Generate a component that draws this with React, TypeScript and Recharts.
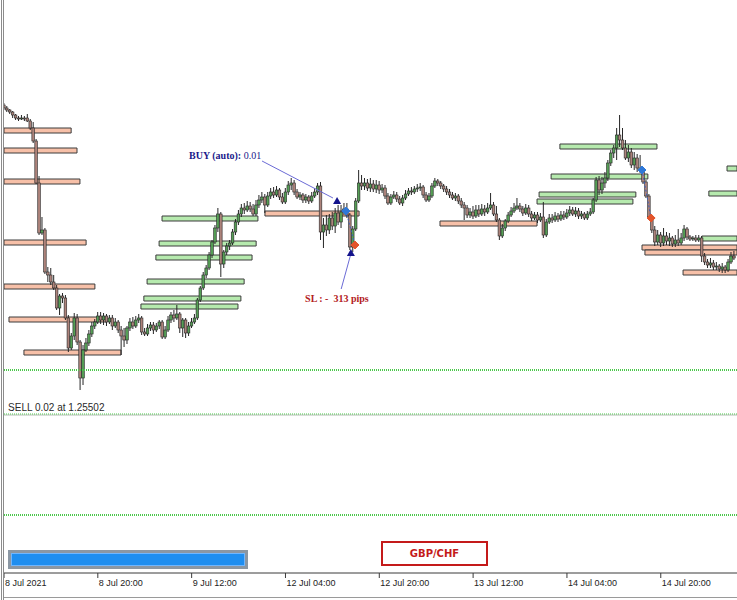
import {
  Bar,
  ComposedChart,
  ReferenceArea,
  ReferenceDot,
  ReferenceLine,
  XAxis,
  YAxis,
} from 'recharts';

type Ohlc = [number, number, number, number]; // open, high, low, close

// GBP/CHF M30 candles, one array per trading day
const jul8: Ohlc[] = [
  [1.2859, 1.2861, 1.2854, 1.2856], [1.2856, 1.2858, 1.2852, 1.2854],
  [1.2854, 1.2855, 1.285, 1.2852], [1.2852, 1.2853, 1.2846, 1.2849],
  [1.2849, 1.285, 1.2844, 1.2846], [1.2846, 1.2848, 1.2843, 1.2845],
  [1.2845, 1.2849, 1.2844, 1.2846], [1.2846, 1.2848, 1.2843, 1.2845],
  [1.2846, 1.285, 1.2842, 1.2843], [1.2843, 1.2845, 1.2834, 1.2836],
  [1.2836, 1.2842, 1.2821, 1.2823], [1.2823, 1.2825, 1.278, 1.2781],
  [1.2781, 1.2788, 1.2729, 1.2731], [1.2731, 1.2747, 1.2729, 1.2734],
  [1.2734, 1.2736, 1.269, 1.2692], [1.2692, 1.2697, 1.2682, 1.2689],
  [1.2689, 1.2696, 1.2679, 1.2682], [1.2682, 1.2689, 1.2674, 1.2676],
  [1.2676, 1.2679, 1.2654, 1.2656], [1.2656, 1.267, 1.2649, 1.2668],
  [1.2668, 1.2671, 1.2661, 1.2666], [1.2666, 1.2669, 1.2644, 1.2646],
  [1.2646, 1.2649, 1.2612, 1.2616], [1.2616, 1.2631, 1.2614, 1.2628],
  [1.2628, 1.2651, 1.2624, 1.2646], [1.2646, 1.265, 1.2619, 1.2622],
  [1.2622, 1.2624, 1.2574, 1.2586], [1.2586, 1.2619, 1.2579, 1.2614],
  [1.2614, 1.2626, 1.2612, 1.2621], [1.2621, 1.2634, 1.2618, 1.263],
  [1.263, 1.2642, 1.2627, 1.2638], [1.2638, 1.2645, 1.2635, 1.2642],
  [1.2642, 1.2652, 1.264, 1.2648], [1.2648, 1.2652, 1.264, 1.2644],
  [1.2644, 1.2651, 1.2639, 1.2648], [1.2648, 1.265, 1.2638, 1.2642],
  [1.2642, 1.2649, 1.264, 1.2646], [1.2646, 1.2649, 1.2634, 1.2638],
  [1.2638, 1.2646, 1.2636, 1.2642], [1.2642, 1.2644, 1.2631, 1.2634],
];

const jul9: Ohlc[] = [
  [1.2634, 1.2638, 1.2609, 1.2628], [1.2628, 1.2636, 1.2617, 1.2624],
  [1.2624, 1.2638, 1.262, 1.2636], [1.2636, 1.2646, 1.2633, 1.2642],
  [1.2642, 1.2647, 1.2635, 1.2638], [1.2638, 1.2648, 1.2636, 1.2644],
  [1.2644, 1.265, 1.2641, 1.2646], [1.2646, 1.2648, 1.2629, 1.2632],
  [1.2632, 1.2636, 1.2628, 1.263], [1.263, 1.264, 1.2628, 1.2636],
  [1.2636, 1.2642, 1.2633, 1.2639], [1.2639, 1.2642, 1.263, 1.2634],
  [1.2634, 1.2641, 1.2632, 1.2638], [1.2638, 1.2644, 1.2635, 1.2642],
  [1.2642, 1.2644, 1.2625, 1.2627], [1.2627, 1.2638, 1.2625, 1.2634],
  [1.2634, 1.2648, 1.2632, 1.2644], [1.2644, 1.2652, 1.2641, 1.2649],
  [1.2649, 1.2654, 1.2642, 1.2646], [1.2646, 1.2659, 1.2644, 1.265],
  [1.265, 1.2652, 1.2631, 1.2636], [1.2636, 1.2646, 1.2627, 1.2644],
  [1.2644, 1.2646, 1.2626, 1.2631], [1.2631, 1.2642, 1.2628, 1.2638],
  [1.2638, 1.2646, 1.2636, 1.2642], [1.2642, 1.265, 1.264, 1.2646],
  [1.2646, 1.2666, 1.2644, 1.2664], [1.2664, 1.2678, 1.2662, 1.2676],
  [1.2676, 1.2692, 1.2674, 1.2689], [1.2689, 1.2699, 1.2686, 1.2696],
  [1.2696, 1.2712, 1.2694, 1.2709], [1.2709, 1.2724, 1.2706, 1.2722],
  [1.2722, 1.2739, 1.272, 1.2736], [1.2736, 1.2756, 1.2732, 1.275],
  [1.275, 1.2752, 1.2687, 1.27], [1.27, 1.2714, 1.2696, 1.2712],
  [1.2712, 1.2721, 1.2709, 1.2718], [1.2718, 1.2724, 1.2714, 1.2721],
  [1.2721, 1.2735, 1.2719, 1.2732], [1.2732, 1.2745, 1.2729, 1.2742],
  [1.2742, 1.2754, 1.2739, 1.275], [1.275, 1.276, 1.2747, 1.2756],
  [1.2756, 1.2761, 1.275, 1.2754], [1.2754, 1.2763, 1.2752, 1.2758],
  [1.2758, 1.2762, 1.2752, 1.2755], [1.2755, 1.276, 1.2748, 1.275],
  [1.275, 1.2764, 1.2748, 1.2759], [1.2759, 1.2769, 1.2756, 1.2764],
];

const jul12: Ohlc[] = [
  [1.2764, 1.2772, 1.2761, 1.2767], [1.2767, 1.277, 1.2751, 1.2759],
  [1.2759, 1.2772, 1.2757, 1.2768], [1.2768, 1.2776, 1.2765, 1.2772],
  [1.2772, 1.2777, 1.2766, 1.2769], [1.2769, 1.2778, 1.2767, 1.2774],
  [1.2774, 1.2776, 1.2764, 1.2767], [1.2767, 1.2771, 1.276, 1.2762],
  [1.2762, 1.2776, 1.276, 1.2772], [1.2772, 1.2783, 1.2769, 1.2779],
  [1.2779, 1.2786, 1.2774, 1.2781], [1.2781, 1.2784, 1.2769, 1.2772],
  [1.2772, 1.2775, 1.2765, 1.2767], [1.2767, 1.2772, 1.2764, 1.2769],
  [1.2769, 1.2771, 1.2761, 1.2764], [1.2764, 1.277, 1.2761, 1.2767],
  [1.2767, 1.2769, 1.276, 1.2763], [1.2763, 1.2772, 1.2761, 1.2768],
  [1.2768, 1.2776, 1.2766, 1.2772], [1.2772, 1.2781, 1.2769, 1.2778],
  [1.2778, 1.2782, 1.2724, 1.2732], [1.2732, 1.2746, 1.2716, 1.2739],
  [1.2739, 1.2749, 1.2728, 1.2734], [1.2734, 1.275, 1.273, 1.2746],
  [1.2746, 1.2752, 1.2734, 1.2738], [1.2738, 1.2756, 1.2731, 1.2751],
  [1.2751, 1.2759, 1.2739, 1.2742], [1.2742, 1.2759, 1.2736, 1.2752],
  [1.2752, 1.2761, 1.2749, 1.2755], [1.2755, 1.2761, 1.2746, 1.2749],
  [1.2749, 1.2751, 1.2714, 1.2717], [1.2717, 1.2738, 1.2712, 1.2735],
  [1.2735, 1.2766, 1.2733, 1.2763], [1.2763, 1.2794, 1.2761, 1.2781],
  [1.2781, 1.2789, 1.2774, 1.2778], [1.2778, 1.2786, 1.2774, 1.2781],
  [1.2781, 1.2785, 1.2773, 1.2776], [1.2776, 1.2786, 1.2772, 1.278],
  [1.278, 1.2784, 1.2772, 1.2775], [1.2775, 1.2784, 1.2771, 1.2779],
  [1.2779, 1.2783, 1.277, 1.2774], [1.2774, 1.278, 1.2771, 1.2776],
  [1.2776, 1.2779, 1.2765, 1.2768], [1.2768, 1.2771, 1.2759, 1.2761],
  [1.2761, 1.277, 1.2759, 1.2767], [1.2767, 1.2773, 1.2765, 1.2769],
  [1.2769, 1.2772, 1.2762, 1.2765], [1.2765, 1.2768, 1.2759, 1.2761],
];

const jul13: Ohlc[] = [
  [1.2761, 1.2769, 1.2758, 1.2766], [1.2766, 1.2774, 1.2764, 1.277],
  [1.277, 1.2776, 1.2768, 1.2773], [1.2773, 1.2777, 1.2769, 1.2772],
  [1.2772, 1.2778, 1.277, 1.2775], [1.2775, 1.278, 1.2772, 1.2776],
  [1.2776, 1.2781, 1.2773, 1.2777], [1.2777, 1.2779, 1.2766, 1.2769],
  [1.2769, 1.2772, 1.2762, 1.2764], [1.2764, 1.2771, 1.2762, 1.2768],
  [1.2768, 1.2781, 1.2766, 1.2778], [1.2778, 1.2786, 1.2776, 1.2783],
  [1.2783, 1.2785, 1.2778, 1.2781], [1.2781, 1.2783, 1.2775, 1.2778],
  [1.2778, 1.278, 1.2772, 1.2775], [1.2775, 1.2778, 1.2769, 1.2772],
  [1.2772, 1.2775, 1.2766, 1.2769], [1.2769, 1.2772, 1.2764, 1.2766],
  [1.2766, 1.2771, 1.2763, 1.2768], [1.2768, 1.277, 1.276, 1.2763],
  [1.2763, 1.2766, 1.2756, 1.2759], [1.2759, 1.2762, 1.2744, 1.2756],
  [1.2756, 1.2759, 1.2746, 1.2749], [1.2749, 1.2756, 1.2746, 1.2752],
  [1.2752, 1.2758, 1.2745, 1.2748], [1.2748, 1.2759, 1.2746, 1.2754],
  [1.2754, 1.2759, 1.2747, 1.275], [1.275, 1.276, 1.2748, 1.2755],
  [1.2755, 1.2759, 1.2748, 1.2752], [1.2752, 1.2761, 1.275, 1.2756],
  [1.2756, 1.2771, 1.2754, 1.2759], [1.2759, 1.2762, 1.2748, 1.275],
  [1.275, 1.2758, 1.2742, 1.2744], [1.2744, 1.2746, 1.2724, 1.2728],
  [1.2728, 1.274, 1.2726, 1.2736], [1.2736, 1.2745, 1.2733, 1.2743],
  [1.2743, 1.2752, 1.2741, 1.2749], [1.2749, 1.2757, 1.2747, 1.2753],
  [1.2753, 1.2761, 1.2751, 1.2756], [1.2756, 1.2766, 1.2754, 1.2758],
  [1.2758, 1.2761, 1.2752, 1.2755], [1.2755, 1.2758, 1.2748, 1.2751],
  [1.2751, 1.276, 1.2749, 1.2756], [1.2756, 1.2759, 1.2747, 1.275],
  [1.275, 1.2753, 1.2743, 1.2746], [1.2746, 1.2752, 1.2744, 1.2749],
  [1.2749, 1.2752, 1.2741, 1.2744], [1.2744, 1.2751, 1.2742, 1.2747],
];

const jul14: Ohlc[] = [
  [1.2747, 1.2762, 1.2726, 1.2729], [1.2729, 1.2745, 1.2727, 1.2742],
  [1.2742, 1.275, 1.274, 1.2746], [1.2746, 1.275, 1.2741, 1.2744],
  [1.2744, 1.2752, 1.2742, 1.2748], [1.2748, 1.2751, 1.2742, 1.2745],
  [1.2745, 1.2753, 1.2743, 1.2749], [1.2749, 1.2753, 1.2744, 1.2747],
  [1.2747, 1.2755, 1.2745, 1.2751], [1.2751, 1.2758, 1.2748, 1.2754],
  [1.2754, 1.2757, 1.2748, 1.275], [1.275, 1.2757, 1.2747, 1.2753],
  [1.2753, 1.2756, 1.2745, 1.2748], [1.2748, 1.2753, 1.2745, 1.275],
  [1.275, 1.2752, 1.2744, 1.2746], [1.2746, 1.2753, 1.2744, 1.275],
  [1.275, 1.2756, 1.2748, 1.2752], [1.2752, 1.2766, 1.275, 1.2764],
  [1.2764, 1.2787, 1.2762, 1.2784], [1.2784, 1.2788, 1.2769, 1.2774],
  [1.2774, 1.2787, 1.277, 1.2781], [1.2781, 1.2792, 1.2776, 1.2786],
  [1.2786, 1.2804, 1.2783, 1.2801], [1.2801, 1.2814, 1.2798, 1.2811],
  [1.2811, 1.2819, 1.2806, 1.2816], [1.2816, 1.2836, 1.2804, 1.2829],
  [1.2829, 1.2849, 1.2817, 1.2824], [1.2824, 1.2836, 1.2814, 1.2816],
  [1.2816, 1.2824, 1.2804, 1.2806], [1.2806, 1.2819, 1.2802, 1.2812],
  [1.2812, 1.2816, 1.2796, 1.2799], [1.2799, 1.2812, 1.2794, 1.2806],
  [1.2806, 1.281, 1.2792, 1.2796], [1.2796, 1.2809, 1.2791, 1.2794],
  [1.2794, 1.2797, 1.278, 1.2782], [1.2782, 1.2784, 1.2766, 1.2768],
  [1.2768, 1.277, 1.2744, 1.2747], [1.2747, 1.2749, 1.2731, 1.2734],
  [1.2734, 1.2738, 1.2718, 1.2722], [1.2722, 1.2734, 1.2719, 1.2729],
  [1.2729, 1.2732, 1.2717, 1.2721], [1.2721, 1.2736, 1.2718, 1.2728],
  [1.2728, 1.2732, 1.2719, 1.2723], [1.2723, 1.2731, 1.2718, 1.2726],
  [1.2726, 1.2728, 1.2717, 1.272], [1.272, 1.2729, 1.2717, 1.2724],
  [1.2724, 1.2735, 1.2718, 1.2721], [1.2721, 1.2731, 1.2719, 1.2726],
];

const jul15: Ohlc[] = [
  [1.2726, 1.2739, 1.2723, 1.2735], [1.2735, 1.2737, 1.2724, 1.2727],
  [1.2727, 1.2729, 1.2723, 1.2725], [1.2725, 1.2728, 1.2723, 1.2726],
  [1.2726, 1.2729, 1.2722, 1.2724], [1.2724, 1.2729, 1.2722, 1.2726],
  [1.2726, 1.2728, 1.2702, 1.2708], [1.2708, 1.2711, 1.2699, 1.2702],
  [1.2702, 1.2705, 1.2696, 1.2699], [1.2699, 1.2706, 1.2696, 1.2701],
  [1.2701, 1.2704, 1.2694, 1.2697], [1.2697, 1.2702, 1.2694, 1.2698],
  [1.2698, 1.27, 1.2692, 1.2695], [1.2695, 1.2701, 1.2691, 1.2697],
  [1.2697, 1.2699, 1.2691, 1.2694], [1.2694, 1.2705, 1.2692, 1.2702],
  [1.2702, 1.2712, 1.27, 1.2708], [1.2708, 1.2713, 1.2704, 1.2706],
];

const tickBars = [0, 32, 64, 96, 128, 160, 192, 224];
const tickLabels = [
  '8 Jul 2021',
  '8 Jul 20:00',
  '9 Jul 12:00',
  '12 Jul 04:00',
  '12 Jul 20:00',
  '13 Jul 12:00',
  '14 Jul 04:00',
  '14 Jul 20:00',
];

// [from bar, to bar, top price, bottom price]
const supplyZones = [
  [0, 22.9, 1.2836, 1.2831],
  [0, 24.9, 1.2816, 1.2811],
  [0, 25.9, 1.2785, 1.278],
  [0, 28, 1.2724, 1.2719],
  [0, 31, 1.268, 1.2675],
  [1.7, 34.8, 1.2647, 1.2642],
  [6.8, 39.9, 1.2614, 1.2609],
  [89, 121.1, 1.2753, 1.2748],
  [148.7, 181.8, 1.2743, 1.2738],
  [217.6, 250, 1.2719, 1.2714],
  [218.6, 250, 1.2714, 1.2709],
  [231.6, 250, 1.2694, 1.2689],
];

const demandZones = [
  [53.9, 86.6, 1.2748, 1.2743],
  [52.9, 86, 1.2723, 1.2718],
  [51.8, 84.6, 1.2709, 1.2704],
  [48.8, 81.9, 1.2685, 1.268],
  [47.7, 80.8, 1.2668, 1.2663],
  [46.7, 79.8, 1.266, 1.2655],
  [189.6, 222.7, 1.282, 1.2815],
  [186.6, 219.6, 1.279, 1.2785],
  [182.5, 215.5, 1.2772, 1.2767],
  [181.8, 214.5, 1.2765, 1.276],
  [246.6, 250, 1.2798, 1.2793],
  [240.4, 250, 1.2773, 1.2768],
  [238, 250, 1.2728, 1.2723],
];

// order lines: take profit, sell entry, stop
const orderLevels = [1.2594, 1.255, 1.2449];
const sellEntry = 1.25502;

// [bar, price] for the buy entries and their stop-outs
const buyEntries = [
  [116.6, 1.2753],
  [217.6, 1.2794],
];
const stopExits = [
  [119.7, 1.2719],
  [220.7, 1.2746],
];

const candles = [jul8, jul9, jul12, jul13, jul14, jul15]
  .flat()
  .map(([o, h, l, c], i) => ({ i, o, h, l, c, range: [l, h] }));

const Candle = (props: any) => {
  const { x, y, width, height, payload } = props;
  const { o, h, l, c } = payload;
  const cx = x + width / 2;
  const top = Math.min(y, y + height);
  const span = Math.abs(height);
  const py = (v: number) => (h === l ? top : top + ((h - v) / (h - l)) * span);
  const bull = c >= o;
  const bt = py(Math.max(o, c));
  const bb = py(Math.min(o, c));
  return (
    <g>
      <line x1={cx} x2={cx} y1={top} y2={top + span} stroke='#262626' strokeWidth={1} />
      <rect
        x={cx - 1.3}
        y={bt}
        width={2.6}
        height={Math.max(bb - bt, 0.8)}
        fill={bull ? '#559e55' : '#ad837b'}
        stroke='#262626'
        strokeWidth={0.6}
      />
    </g>
  );
};

const TimeTick = ({ x, y, payload }: any) => {
  const k = tickBars.indexOf(payload.value);
  return (
    <text
      x={x + 1}
      y={y + 8}
      fontSize={9}
      fontFamily='Liberation Sans, Arial, sans-serif'
      fill='#222'
    >
      {tickLabels[k]}
    </text>
  );
};

const Marker = ({ cx, cy, color }: any) => (
  <path
    d={`M${cx - 4},${cy} L${cx},${cy - 4} L${cx + 4},${cy} L${cx},${cy + 4} Z M${cx - 4},${cy} L${cx + 4},${cy}`}
    fill={color}
    stroke={color}
    strokeWidth={1}
  />
);

const ArrowHead = ({ cx, cy }: any) => (
  <polygon
    points={`${cx},${cy - 4} ${cx - 4},${cy + 3} ${cx + 4},${cy + 3}`}
    fill='#14148c'
  />
);

const serif = 'Liberation Serif, Times New Roman, serif';

export default function App() {
  return (
    <div
      style={{
        position: 'absolute',
        left: 0,
        top: 0,
        width: 737,
        height: 600,
        background: '#fff',
        overflow: 'hidden',
      }}
    >
      <ComposedChart
        width={737}
        height={600}
        data={candles}
        margin={{ top: 0, right: 0, bottom: 0, left: 4 }}
      >
        <XAxis
          type='number'
          dataKey='i'
          domain={[0, 250]}
          ticks={tickBars}
          interval={0}
          height={27}
          tickSize={5}
          tickMargin={0}
          tick={<TimeTick />}
          stroke='#3a3a3a'
          allowDataOverflow
        />
        <YAxis hide type='number' domain={[1.2391, 1.2964]} allowDataOverflow />

        {supplyZones.map(([x1, x2, y1, y2], k) => (
          <ReferenceArea
            key={`s${k}`}
            x1={x1}
            x2={x2}
            y1={y1}
            y2={y2}
            fill='#f7c0a8'
            fillOpacity={1}
            stroke='#3c3c3c'
            strokeWidth={1}
          />
        ))}
        {demandZones.map(([x1, x2, y1, y2], k) => (
          <ReferenceArea
            key={`d${k}`}
            x1={x1}
            x2={x2}
            y1={y1}
            y2={y2}
            fill='#b6eaae'
            fillOpacity={1}
            stroke='#3c3c3c'
            strokeWidth={1}
          />
        ))}

        <ReferenceLine y={orderLevels[0]} stroke='#4cc84c' strokeWidth={2} strokeDasharray='1 1' />
        <ReferenceLine y={orderLevels[1] - 0.0001} stroke='#b4bcb4' strokeWidth={1} />
        <ReferenceLine y={orderLevels[1]} stroke='#4cc84c' strokeWidth={1} strokeDasharray='1 1' />
        <ReferenceLine y={orderLevels[2]} stroke='#4cc84c' strokeWidth={2} strokeDasharray='1 1' />

        <Bar
          dataKey='range'
          barSize={3}
          shape={<Candle />}
          isAnimationActive={false}
        />

        {buyEntries.map(([bx, by], k) => (
          <ReferenceLine
            key={`t${k}`}
            segment={[
              { x: bx, y: by },
              { x: stopExits[k][0], y: stopExits[k][1] },
            ]}
            stroke='#3a5fc0'
            strokeWidth={1}
            strokeDasharray='2 2'
          />
        ))}

        <ReferenceLine
          segment={[
            { x: 88, y: 1.2803 },
            { x: 112.2, y: 1.2766 },
          ]}
          stroke='#6b6bd6'
          strokeWidth={1}
        />
        <ReferenceLine
          segment={[
            { x: 115, y: 1.2675 },
            { x: 118.1, y: 1.2708 },
          ]}
          stroke='#6b6bd6'
          strokeWidth={1}
        />
        <ReferenceDot x={113.6} y={1.2763} r={4} shape={<ArrowHead />} />
        <ReferenceDot x={118.3} y={1.2711} r={4} shape={<ArrowHead />} />

        {buyEntries.map(([bx, by], k) => (
          <ReferenceDot key={`b${k}`} x={bx} y={by} r={4} shape={<Marker color='#2f78d8' />} />
        ))}
        {stopExits.map(([sx, sy], k) => (
          <ReferenceDot key={`r${k}`} x={sx} y={sy} r={4} shape={<Marker color='#e2552c' />} />
        ))}

        <ReferenceDot
          x={63.1}
          y={1.2805}
          r={1}
          shape={(p: any) => (
            <text x={p.cx} y={p.cy} fontSize={10} fontFamily={serif} fill='#1a1a8a'>
              <tspan fontWeight='bold'>BUY (auto):</tspan>
              <tspan> 0.01</tspan>
            </text>
          )}
        />
        <ReferenceDot
          x={102.7}
          y={1.2662}
          r={1}
          shape={(p: any) => (
            <text
              x={p.cx}
              y={p.cy}
              fontSize={10}
              fontWeight='bold'
              fontFamily={serif}
              fill='#b3201c'
              style={{ whiteSpace: 'pre' }}
            >
              {'SL : -  313 pips'}
            </text>
          )}
        />
        <ReferenceDot
          x={1.4}
          y={1.2553}
          r={1}
          shape={(p: any) => (
            <text
              x={p.cx}
              y={p.cy}
              fontSize={10}
              fontFamily='Liberation Sans, Arial, sans-serif'
              fill='#2a2a2a'
            >
              {`SELL 0.02 at ${sellEntry.toFixed(5)}`}
            </text>
          )}
        />
      </ComposedChart>

      {/* terminal window frame */}
      <div style={{ position: 'absolute', left: 1, top: 0, width: 1, height: 600, background: '#8c8c8c' }} />
      <div style={{ position: 'absolute', left: 3, top: 0, width: 1, height: 600, background: '#8c8c8c' }} />
      <div style={{ position: 'absolute', left: 4, top: 597, width: 733, height: 1, background: '#9a9a9a' }} />

      {/* progress widget */}
      <div
        style={{
          position: 'absolute',
          left: 8,
          top: 550,
          width: 234,
          height: 13,
          border: '3px solid #8b97a3',
          background: '#1e8ef0',
          boxShadow: 'inset 0 0 0 1px #6fb6ff',
        }}
      />

      {/* symbol badge */}
      <div
        style={{
          position: 'absolute',
          left: 381,
          top: 541,
          width: 103,
          height: 21,
          border: '2px solid #c41a1a',
          background: '#fff',
          color: '#c41a1a',
          fontFamily: 'DejaVu Sans, sans-serif',
          fontWeight: 'bold',
          fontSize: 10,
          lineHeight: '21px',
          textAlign: 'center',
        }}
      >
        GBP/CHF
      </div>
    </div>
  );
}
